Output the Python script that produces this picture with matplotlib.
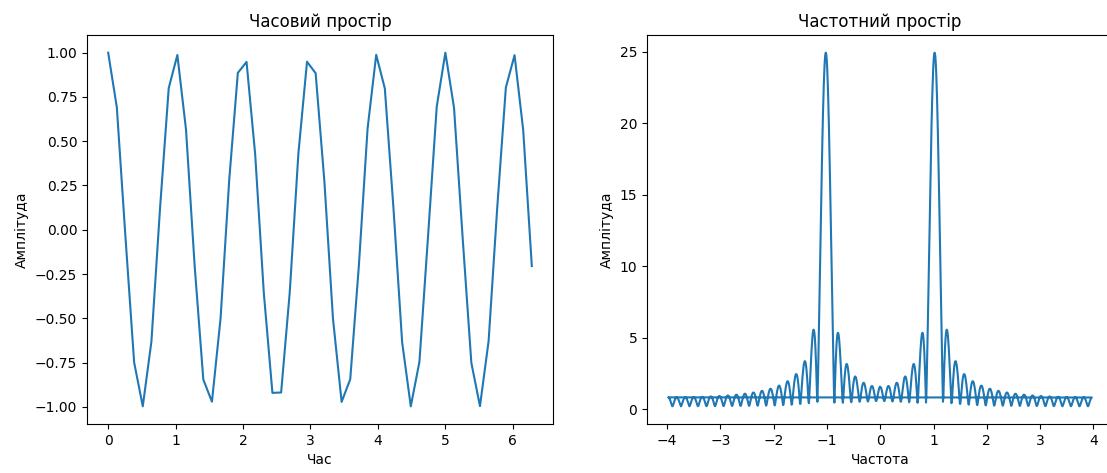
import numpy as np
import matplotlib
matplotlib.use("Agg")
import matplotlib.pyplot as plt

# Time samples
t = [0.000, 0.128, 0.256, 0.385, 0.513, 0.641, 0.769, 0.898, 1.026, 1.154,
     1.282, 1.411, 1.539, 1.667, 1.795, 1.923, 2.052, 2.180, 2.308, 2.436,
     2.565, 2.693, 2.821, 2.949, 3.077, 3.206, 3.334, 3.462, 3.590, 3.719,
     3.847, 3.975, 4.103, 4.232, 4.360, 4.488, 4.616, 4.744, 4.873, 5.001,
     5.129, 5.257, 5.386, 5.514, 5.642, 5.770, 5.898, 6.027, 6.155, 6.283]
signal = [1.000, 0.692, -0.040, -0.749, -0.997, -0.632, 0.121, 0.800, 0.987, 0.567,
          -0.201, -0.846, -0.971, -0.499, 0.280, 0.886, 0.948, 0.427, -0.356, -0.921,
          -0.919, -0.352, 0.431, 0.949, 0.884, 0.276, -0.502, -0.972, -0.844, -0.197,
          0.571, 0.988, 0.798, 0.117, -0.636, -0.997, -0.746, -0.036, 0.696, 1.000,
          0.690, -0.045, -0.751, -0.996, -0.629, 0.125, 0.803, 0.986, 0.564, -0.205]

titles = ["Часовий простір", "Частотний простір"]
xlabels = ["Час", "Частота"]
ylabel = "Амплітуда"
n_fft = 1000
freq_sample_step = 0.1257  # sample spacing used for the frequency axis

x_arr = np.array(signal)
t_arr = np.array(t)
spec = np.abs(np.fft.fft(x_arr, n=n_fft))
freqs = np.fft.fftfreq(n_fft, d=freq_sample_step)

fig = plt.figure(figsize=(11.07, 4.73), dpi=100)
W, H = 1107, 473
ax1 = fig.add_axes([87 / W, (H - 424) / H, 466 / W, 389 / H])
ax2 = fig.add_axes([647 / W, (H - 424) / H, 466 / W, 389 / H])

ax1.plot(t_arr, x_arr)
ax1.set_title(titles[0])
ax1.set_xlabel(xlabels[0])
ax1.set_ylabel(ylabel)

ax2.plot(freqs, spec)
ax2.set_title(titles[1])
ax2.set_xlabel(xlabels[1])
ax2.set_ylabel(ylabel)

fig.savefig("out.png", dpi=100)
